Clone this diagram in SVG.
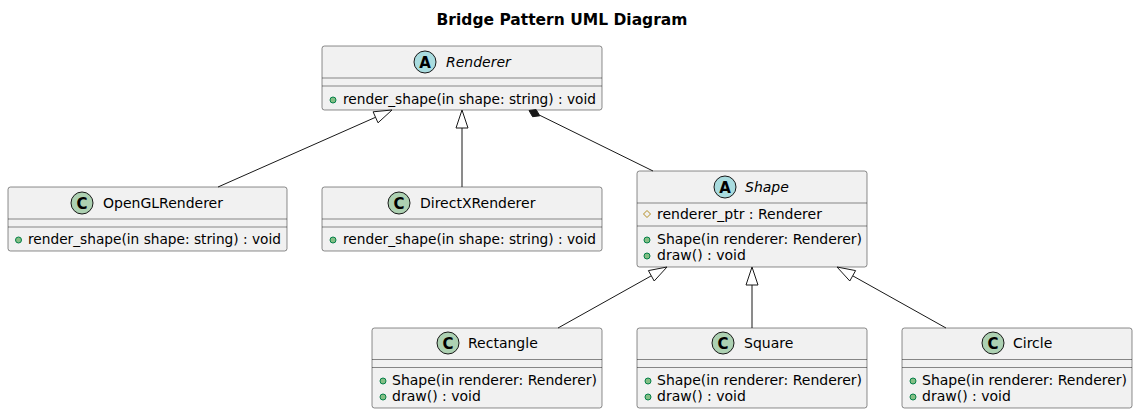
<svg xmlns="http://www.w3.org/2000/svg" width="1138" height="414" viewBox="0 0 1138 414">
<defs>
<style>
text{font-family:"DejaVu Sans","Liberation Sans",sans-serif;fill:#000}
.title{font-size:15.5px;font-weight:bold}
.name{font-size:14px}
.abs{font-style:italic}
.mem{font-size:14px}
.box{fill:#F1F1F1;stroke:#181818;stroke-width:0.5}
.sep{stroke:#181818;stroke-width:0.5}
.ic{stroke:#181818;stroke-width:1}
.icA{fill:#A9DCDF}
.icC{fill:#ADD1B2}
.letter{font-family:"DejaVu Sans","Liberation Sans",sans-serif;font-size:15px;font-weight:bold;text-anchor:middle}
.pub{fill:#84BE84;stroke:#038048;stroke-width:1}
.prot{fill:none;stroke:#B38D22;stroke-width:1}
.edge{stroke:#181818;stroke-width:1;fill:none}
.tri{fill:#FFFFFF;stroke:#181818;stroke-width:1}
.dia{fill:#181818;stroke:#181818;stroke-width:1}
</style>
</defs>
<rect width="1138" height="414" fill="#FFFFFF"/>
<text class="title" x="562" y="24.5" text-anchor="middle">Bridge Pattern UML Diagram</text>

<g id="Renderer">
<rect class="box" x="322" y="46" width="280" height="64" rx="2.5"/>
<circle class="ic icA" cx="425" cy="62" r="11"/>
<text class="letter" x="425" y="67.5">A</text>
<text class="name abs" x="446" y="67">Renderer</text>
<line class="sep" x1="322" y1="78" x2="602" y2="78"/>
<line class="sep" x1="322" y1="86" x2="602" y2="86"/>
<circle class="pub" cx="333" cy="100" r="3"/>
<text class="mem" x="343" y="104" textLength="253" lengthAdjust="spacingAndGlyphs">render_shape(in shape: string) : void</text>
</g>

<g id="OpenGLRenderer">
<rect class="box" x="8" y="187" width="279" height="64" rx="2.5"/>
<circle class="ic icC" cx="82" cy="203" r="11"/>
<text class="letter" x="82" y="208.5">C</text>
<text class="name" x="103" y="208">OpenGLRenderer</text>
<line class="sep" x1="8" y1="219" x2="287" y2="219"/>
<line class="sep" x1="8" y1="227" x2="287" y2="227"/>
<circle class="pub" cx="18.5" cy="240" r="3"/>
<text class="mem" x="28" y="244" textLength="253" lengthAdjust="spacingAndGlyphs">render_shape(in shape: string) : void</text>
</g>

<g id="DirectXRenderer">
<rect class="box" x="322" y="187" width="280" height="64" rx="2.5"/>
<circle class="ic icC" cx="399" cy="203" r="11"/>
<text class="letter" x="399" y="208.5">C</text>
<text class="name" x="420" y="208">DirectXRenderer</text>
<line class="sep" x1="322" y1="219" x2="602" y2="219"/>
<line class="sep" x1="322" y1="227" x2="602" y2="227"/>
<circle class="pub" cx="333" cy="240" r="3"/>
<text class="mem" x="343" y="244" textLength="253" lengthAdjust="spacingAndGlyphs">render_shape(in shape: string) : void</text>
</g>

<g id="Shape">
<rect class="box" x="637" y="171" width="230" height="96" rx="2.5"/>
<circle class="ic icA" cx="725" cy="187" r="11"/>
<text class="letter" x="725" y="192.5">A</text>
<text class="name abs" x="745" y="192">Shape</text>
<line class="sep" x1="637" y1="203" x2="867" y2="203"/>
<polygon class="prot" points="647,210.5 650.5,214 647,217.5 643.5,214"/>
<text class="mem" x="657" y="219">renderer_ptr : Renderer</text>
<line class="sep" x1="637" y1="226" x2="867" y2="226"/>
<circle class="pub" cx="647" cy="240" r="3"/>
<text class="mem" x="657" y="244">Shape(in renderer: Renderer)</text>
<circle class="pub" cx="647" cy="256" r="3"/>
<text class="mem" x="657" y="260">draw() : void</text>
</g>

<g id="Rectangle">
<rect class="box" x="372" y="328" width="230" height="80" rx="2.5"/>
<circle class="ic icC" cx="448" cy="343" r="11"/>
<text class="letter" x="448" y="348.5">C</text>
<text class="name" x="468" y="348">Rectangle</text>
<line class="sep" x1="372" y1="359.5" x2="602" y2="359.5"/>
<line class="sep" x1="372" y1="367.5" x2="602" y2="367.5"/>
<circle class="pub" cx="383" cy="381" r="3"/>
<text class="mem" x="392" y="385">Shape(in renderer: Renderer)</text>
<circle class="pub" cx="383" cy="397" r="3"/>
<text class="mem" x="392" y="401">draw() : void</text>
</g>

<g id="Square">
<rect class="box" x="637" y="328" width="230" height="80" rx="2.5"/>
<circle class="ic icC" cx="723" cy="343" r="11"/>
<text class="letter" x="723" y="348.5">C</text>
<text class="name" x="744" y="348">Square</text>
<line class="sep" x1="637" y1="359.5" x2="867" y2="359.5"/>
<line class="sep" x1="637" y1="367.5" x2="867" y2="367.5"/>
<circle class="pub" cx="648" cy="381" r="3"/>
<text class="mem" x="657" y="385">Shape(in renderer: Renderer)</text>
<circle class="pub" cx="648" cy="397" r="3"/>
<text class="mem" x="657" y="401">draw() : void</text>
</g>

<g id="Circle">
<rect class="box" x="902" y="328" width="230" height="80" rx="2.5"/>
<circle class="ic icC" cx="993" cy="343" r="11"/>
<text class="letter" x="993" y="348.5">C</text>
<text class="name" x="1013" y="348">Circle</text>
<line class="sep" x1="902" y1="359.5" x2="1132" y2="359.5"/>
<line class="sep" x1="902" y1="367.5" x2="1132" y2="367.5"/>
<circle class="pub" cx="913" cy="381" r="3"/>
<text class="mem" x="922" y="385">Shape(in renderer: Renderer)</text>
<circle class="pub" cx="913" cy="397" r="3"/>
<text class="mem" x="922" y="401">draw() : void</text>
</g>

<g id="connectors">
<line class="edge" x1="218" y1="187" x2="375.5" y2="117.3"/>
<polygon class="tri" points="392,110 373.1,111.8 378,122.8"/>
<line class="edge" x1="462" y1="187" x2="462" y2="128"/>
<polygon class="tri" points="462,110 456,128 468,128"/>
<line class="edge" x1="653" y1="171" x2="539.8" y2="115.3"/>
<polygon class="dia" points="529,110.5 536.1,109.6 539.8,115.8 532.6,116.7"/>
<line class="edge" x1="558" y1="328" x2="651.3" y2="275.8"/>
<polygon class="tri" points="667,267 648.4,270.6 654.2,281"/>
<line class="edge" x1="752" y1="328" x2="752" y2="285"/>
<polygon class="tri" points="752,267 746,285 758,285"/>
<line class="edge" x1="946" y1="328" x2="852.7" y2="275.8"/>
<polygon class="tri" points="837,267 855.6,270.6 849.8,281"/>
</g>
</svg>
